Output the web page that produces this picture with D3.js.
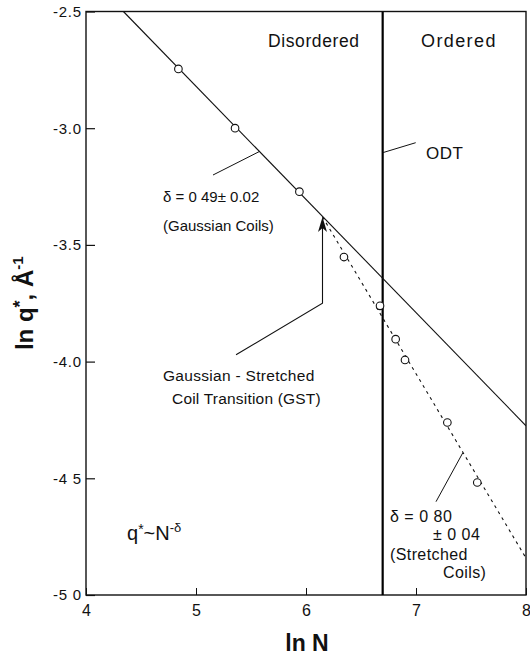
<!DOCTYPE html>
<html>
<head>
<meta charset="utf-8">
<script src="https://cdn.jsdelivr.net/npm/d3@7"></script>
<style>
  html, body { margin: 0; padding: 0; background: #fff; }
  svg { display: block; font-family: "Liberation Sans", Arial, Helvetica, sans-serif; }
</style>
</head>
<body>
<svg id="chart" width="530" height="657"></svg>
<script>
// ---- data ----
const lnN    = [4.84, 5.355, 5.94, 6.345, 6.673, 6.815, 6.90, 7.285, 7.557];
const lnQ    = [-2.746, -3.000, -3.272, -3.552, -3.761, -3.904, -3.993, -4.261, -4.518];
const gaussFit   = [[4.34, -2.50], [8.00, -4.275]];   // solid line, delta = 0.49
const stretchFit = [[6.15, -3.38], [8.00, -4.842]];   // dashed line, delta = 0.80
const odtLnN = 6.697;
const xTicks = [4, 5, 6, 7, 8];
const xTickLabels = ["4", "5", "6", "7", "8"];
const yTicks = [-2.5, -3.0, -3.5, -4.0, -4.5, -5.0];
const yTickLabels = ["-2.5", "-3.0", "-3.5", "-4.0", "-4 5", "-5 0"];

// ---- layout ----
const L = 86, R = 526, T = 11.5, B = 595;
const x = d3.scaleLinear().domain([4, 8]).range([L, R]);
const y = d3.scaleLinear().domain([-5, -2.5]).range([B, T]);

const svg = d3.select("#chart");
const font = "'Liberation Sans', Arial, Helvetica, sans-serif";

svg.append("defs").append("clipPath").attr("id", "plot")
  .append("rect").attr("x", L).attr("y", T).attr("width", R - L).attr("height", B - T);

// axes
const yAxis = d3.axisLeft(y).tickValues(yTicks)
  .tickFormat((d, i) => yTickLabels[i]).tickSizeInner(-9).tickSizeOuter(0).tickPadding(4);
const gy = svg.append("g").attr("transform", `translate(${L},0)`).call(yAxis);
gy.selectAll("text").attr("font-size", 15).attr("font-family", font).attr("fill", "#111")
  .attr("letter-spacing", "0.8px");
gy.selectAll("line").attr("stroke", "#111").attr("stroke-width", 1.2);
gy.select(".domain").remove();

const xAxis = d3.axisBottom(x).tickValues(xTicks)
  .tickFormat((d, i) => xTickLabels[i]).tickSizeInner(-7).tickSizeOuter(0).tickPadding(10);
const gx = svg.append("g").attr("transform", `translate(0,${B})`).call(xAxis);
gx.selectAll("text").attr("font-size", 16).attr("font-family", font).attr("fill", "#111");
gx.selectAll("line").attr("stroke", "#111").attr("stroke-width", 1);
gx.select(".domain").remove();

// frame
svg.append("rect").attr("x", L).attr("y", T).attr("width", R - L).attr("height", B - T)
  .attr("fill", "none").attr("stroke", "#111").attr("stroke-width", 1.4);

const plot = svg.append("g").attr("clip-path", "url(#plot)");
const line = d3.line().x(d => x(d[0])).y(d => y(d[1]));

// ODT vertical line
plot.append("line").attr("x1", x(odtLnN)).attr("x2", x(odtLnN)).attr("y1", T).attr("y2", B)
  .attr("stroke", "#000").attr("stroke-width", 2.2);

// fits
plot.append("path").datum(gaussFit).attr("d", line)
  .attr("fill", "none").attr("stroke", "#111").attr("stroke-width", 1.1);
plot.append("path").datum(stretchFit).attr("d", line)
  .attr("fill", "none").attr("stroke", "#111").attr("stroke-width", 1.1)
  .attr("stroke-dasharray", "3,4");

// points
plot.selectAll("circle.pt").data(lnN.map((v, i) => [v, lnQ[i]])).enter()
  .append("circle").attr("class", "pt")
  .attr("cx", d => x(d[0])).attr("cy", d => y(d[1])).attr("r", 3.8)
  .attr("fill", "#fff").attr("stroke", "#111").attr("stroke-width", 1.1);

// region labels
function txt(str, px, py, size, opts = {}) {
  const t = svg.append("text").attr("x", px).attr("y", py).attr("font-size", size)
    .attr("font-family", font).attr("fill", "#111").text(str);
  if (opts.anchor) t.attr("text-anchor", opts.anchor);
  if (opts.ls) t.attr("letter-spacing", opts.ls);
  if (opts.weight) t.attr("font-weight", opts.weight);
  return t;
}
txt("Disordered", 268, 46.5, 17.5, { ls: "0.6px" });
txt("Ordered", 421, 46.5, 18, { ls: "1.4px" });

// ODT label + leader
svg.append("line").attr("x1", x(odtLnN)).attr("y1", 152.7).attr("x2", 415.7).attr("y2", 142.7)
  .attr("stroke", "#111").attr("stroke-width", 1);
txt("ODT", 426, 159, 17, { ls: "0.5px" });

// delta 0.49 leader + labels
svg.append("line").attr("x1", 260).attr("y1", 151.2).attr("x2", 213).attr("y2", 175)
  .attr("stroke", "#111").attr("stroke-width", 1);
txt("δ = 0 49± 0.02", 163, 201.5, 15);
txt("(Gaussian Coils)", 163, 231, 15);

// GST arrow
const tipX = x(6.15), tipY = y(-3.38);
const baseY = y(-3.75);
svg.append("polyline")
  .attr("points", `${tipX},${tipY + 6} ${tipX},${baseY} ${x(5.364)},${y(-3.971)}`)
  .attr("fill", "none").attr("stroke", "#111").attr("stroke-width", 1.1);
svg.append("path")
  .attr("d", `M${tipX},${tipY} L${tipX - 4.5},${tipY + 15} L${tipX},${tipY + 11} L${tipX + 4.5},${tipY + 15} Z`)
  .attr("fill", "#111");
txt("Gaussian - Stretched", 163, 381, 15.5, { ls: "0.3px" });
txt("Coil Transition (GST)", 172, 404, 15.5, { ls: "0.2px" });

// delta 0.80 leader + labels
svg.append("line").attr("x1", 462.7).attr("y1", 453).attr("x2", 436).attr("y2", 501.7)
  .attr("stroke", "#111").attr("stroke-width", 1);
txt("δ = 0 80", 390, 521.5, 16, { ls: "0.5px" });
txt("± 0 04", 433, 540, 16, { ls: "0.5px" });
txt("(Stretched", 390, 560, 16, { ls: "0.4px" });
txt("Coils)", 443, 578, 16, { ls: "0.4px" });

// scaling law
const law = svg.append("text").attr("x", 127).attr("y", 540).attr("font-size", 20)
  .attr("font-family", font).attr("fill", "#111");
law.append("tspan").text("q");
law.append("tspan").attr("font-size", 14).attr("dy", -6).text("*");
law.append("tspan").attr("dy", 6).text("~N");
law.append("tspan").attr("font-size", 13).attr("dy", -8).text("-δ");

// axis titles
txt("ln N", 307, 651, 23, { anchor: "middle", weight: "bold" });
const yt = svg.append("text").attr("transform", `translate(33,${(T + B) / 2}) rotate(-90)`)
  .attr("text-anchor", "middle").attr("font-size", 24).attr("font-weight", "bold")
  .attr("font-family", font).attr("fill", "#111");
yt.append("tspan").text("ln q");
yt.append("tspan").attr("font-size", 18).attr("dy", -7).text("*");
yt.append("tspan").attr("dy", 7).text(", Å");
yt.append("tspan").attr("font-size", 15).attr("dy", -10).text("-1");
</script>
</body>
</html>
